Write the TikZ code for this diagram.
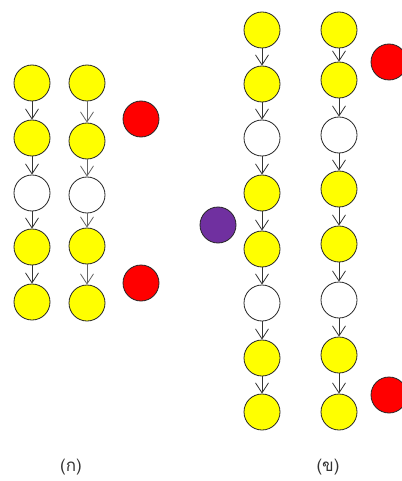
\documentclass[tikz,border=0pt]{standalone}
\usepackage{fontspec}
\newfontfamily\thaifont[Script=Thai]{Loma}
\usetikzlibrary{arrows.meta}
\definecolor{dotyellow}{RGB}{255,255,0}
\definecolor{dotred}{RGB}{255,0,0}
\definecolor{dotpurple}{RGB}{112,48,160}
\tikzset{
  dot/.style={circle,draw=black!85,line width=0.8pt,minimum size=36pt,inner sep=0pt},
  yel/.style={dot,fill=dotyellow},
  wht/.style={dot,fill=white},
  reddot/.style={dot,fill=dotred},
  purdot/.style={dot,fill=dotpurple},
  link/.style={draw=black!80,line width=0.8pt,-{Straight Barb[length=10pt,width=13pt]}},
  linkg/.style={link,draw=black!60},
  captext/.style={font=\thaifont\fontsize{17}{20}\selectfont,text=black!80}
}
\begin{document}
\begin{tikzpicture}[x=1pt,y=-1pt]
\useasboundingbox (0,0) rectangle (401,481);
% panel (a)
\node[yel] (a1) at (32,83) {};
\node[yel] (a2) at (32,138) {};
\node[wht] (a3) at (32,193) {};
\node[yel] (a4) at (32,247) {};
\node[yel] (a5) at (32,302) {};
\node[yel] (b1) at (87,83) {};
\node[yel] (b2) at (87,141) {};
\node[wht] (b3) at (87,195) {};
\node[yel] (b4) at (87,246) {};
\node[yel] (b5) at (87,303) {};
\node[reddot] (r1) at (141,119) {};
\node[reddot] (r2) at (141,283) {};
\foreach \i/\j in {1/2,2/3,3/4,4/5}{
  \draw[link] (a\i.south) -- (a\j.north);
  \draw[linkg] (b\i.south) -- (b\j.north);
}
% panel (b)
\node[yel] (c1) at (262,30) {};
\node[yel] (c2) at (262,84) {};
\node[wht] (c3) at (262,138) {};
\node[yel] (c4) at (262,193) {};
\node[yel] (c5) at (262,249) {};
\node[wht] (c6) at (262,303) {};
\node[yel] (c7) at (262,358) {};
\node[yel] (c8) at (262,412) {};
\node[yel] (d1) at (339,30) {};
\node[yel] (d2) at (339,80) {};
\node[wht] (d3) at (339,135) {};
\node[yel] (d4) at (339,189) {};
\node[yel] (d5) at (339,244) {};
\node[wht] (d6) at (339,300) {};
\node[yel] (d7) at (339,355) {};
\node[yel] (d8) at (339,412) {};
\node[reddot] (r3) at (389,62) {};
\node[reddot] (r4) at (389,395) {};
\node[purdot] (p1) at (218,225) {};
\foreach \i/\j in {1/2,2/3,3/4,4/5,5/6,6/7,7/8}{
  \draw[link] (c\i.south) -- (c\j.north);
  \draw[link] (d\i.south) -- (d\j.north);
}
\node[captext] (la) at (71,467) {(ก)};
\node[captext] (lb) at (328,467) {(ข)};
\end{tikzpicture}
\end{document}
